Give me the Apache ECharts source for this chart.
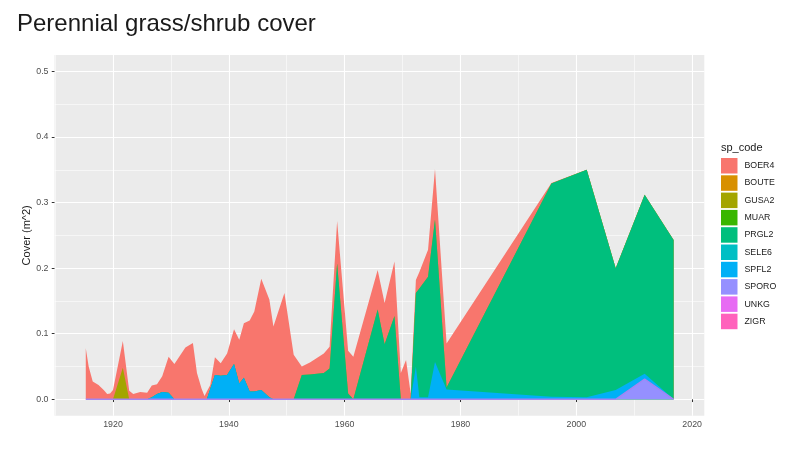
<!DOCTYPE html>
<html><head><meta charset="utf-8">
<script src="https://cdn.jsdelivr.net/npm/echarts@6/dist/echarts.min.js"></script>
<style>html,body{margin:0;padding:0;background:#fff}#c{width:789px;height:452px}</style>
</head><body><div id="c"></div>
<script>
// ---- data ----
const species = ['BOER4','BOUTE','GUSA2','MUAR','PRGL2','SELE6','SPFL2','SPORO','UNKG','ZIGR'];
const years = [1915.3,1915.8,1916.5,1917.5,1918.4,1919.0,1919.5,1920.0,1921.7,1922.8,
  1923.5,1924.7,1925.9,1926.7,1927.6,1928.5,1929.6,1930.6,1932.5,1933.8,
  1934.5,1935.3,1935.8,1936.2,1936.8,1937.6,1938.6,1939.7,1940.9,1941.8,
  1942.6,1943.6,1944.4,1945.6,1947.0,1947.7,1949.6,1951.2,1952.6,1954.0,
  1956.4,1957.4,1958.7,1960.6,1961.5,1965.7,1966.9,1968.6,1969.7,1970.6,
  1971.4,1972.3,1972.9,1974.4,1975.6,1977.6,1995.7,2001.8,2006.8,2011.8,2016.8];
const BOER4 = [0.078,0.050,0.027,0.022,0.014,0.008,0.009,0.014,0.041,0.013,
  0.008,0.011,0.010,0.018,0.015,0.024,0.055,0.054,0.079,0.086,
  0.040,0.016,0.005,0.012,0.006,0.027,0.019,0.033,0.053,0.067,
  0.083,0.108,0.122,0.170,0.149,0.111,0.162,0.068,0.013,0.018,
  0.030,0.033,0.065,0.065,0.065,0.060,0.063,0.083,0.040,0.060,
  0.009,0.020,0.025,0.041,0.077,0.067,0.001,0,0,0,0];
const GUSA2 = [0,0,0,0,0,0,0,0,0.048,0,
  0,0,0,0,0,0,0,0,0,0,
  0,0,0,0,0,0,0,0,0,0,
  0,0,0,0,0,0,0,0,0,0,
  0,0,0,0,0,0,0,0,0,0,
  0,0,0,0,0,0,0,0,0,0,0];
const PRGL2 = [0,0,0,0,0,0,0,0,0,0,
  0,0,0,0,0,0,0,0,0,0,
  0,0,0,0,0,0,0,0,0,0,
  0,0,0,0,0,0,0,0,0.037,0.038,
  0.040,0.047,0.207,0.009,0,0.137,0.084,0.127,0,0,
  0,0.112,0.166,0.184,0.217,0.003,0.325,0.347,0.186,0.273,0.243];
const SPFL2 = [0,0,0,0,0,0,0,0,0,0,
  0,0,0,0.003,0.008,0.011,0.010,0,0,0,
  0,0,0,0,0.016,0.037,0.036,0.037,0.054,0.024,
  0.033,0.012,0.012,0.014,0.003,0,0,0,0,0,
  0,0,0,0,0,0,0,0,0,0,
  0,0.050,0.003,0.003,0.057,0.015,0.004,0.003,0.014,0.008,0];
const SPORO = [0,0,0,0,0,0,0,0,0,0,
  0,0,0,0,0,0,0,0,0,0,
  0,0,0,0,0,0,0,0,0,0,
  0,0,0,0,0,0,0,0,0,0,
  0,0,0,0,0,0,0,0,0,0,
  0,0,0,0,0,0,0,0,0,0.031,0];
const BOUTE = [], MUAR = [], SELE6 = [], UNKG = [], ZIGR = [];
const xTicks = [1920,1940,1960,1980,2000,2020];
const xMinor = [1910,1930,1950,1970,1990,2010];
const yTicks = [0,0.1,0.2,0.3,0.4,0.5];
const yMinor = [0.05,0.15,0.25,0.35,0.45];

// ---- styles ----
const colors = {BOER4:'#F8766D',BOUTE:'#D89000',GUSA2:'#A3A500',MUAR:'#39B600',PRGL2:'#00BF7D',
  SELE6:'#00BFC4',SPFL2:'#00B0F6',SPORO:'#9590FF',UNKG:'#E76BF3',ZIGR:'#FF62BC'};
const values = {BOER4,BOUTE,GUSA2,MUAR,PRGL2,SELE6,SPFL2,SPORO,UNKG,ZIGR};
const FONT = 'Liberation Sans, Arial, sans-serif';

// Stacked layers: cumulative height of each species = its value + all species below it
// (legend order top -> bottom; ZIGR at the bottom). Layers are painted top species first,
// lower layers over them, which gives the stacked-area picture.
function cumulative(idx) {
  return years.map((y, i) => {
    let s = 0;
    for (let k = idx; k < species.length; k++) {
      const arr = values[species[k]];
      if (arr.length) s += arr[i];
    }
    return [y, +s.toFixed(4)];
  });
}

const chart = echarts.init(document.getElementById('c'), null, {renderer:'canvas'});
const series = species.map((name, idx) => {
  const has = values[name].length > 0;
  return {
    name, type:'line', symbol:'none', animation:false,
    xAxisIndex:0, yAxisIndex:0,
    color: colors[name],
    itemStyle:{color: colors[name]},
    lineStyle: name === 'SPORO' ? {width:1.4, color:'#A385F2'} : {width:0},
    areaStyle:{color: colors[name], opacity:1, origin:0},
    data: has ? cumulative(idx) : []
  };
});

const axisCommon = {type:'value', axisLine:{show:false}};
chart.setOption({
  animation:false,
  backgroundColor:'#ffffff',
  title:[
    {text:'Perennial grass/shrub cover', left:17, top:12, padding:0,
     textStyle:{fontFamily:FONT, fontSize:24, fontWeight:'normal', color:'#1a1a1a'}},
    {text:'sp_code', left:721, top:142, padding:0,
     textStyle:{fontFamily:FONT, fontSize:11, fontWeight:'normal', color:'#1a1a1a'}}
  ],
  grid:{left:54.5, right:84.7, top:55, bottom:36.3, show:true, backgroundColor:'#EBEBEB', borderWidth:0, containLabel:false},
  legend:{
    data: species, orient:'vertical', left:721, top:158, icon:'rect',
    itemWidth:16.5, itemHeight:15.5, itemGap:1.8, selectedMode:false, padding:0,
    textStyle:{fontFamily:FONT, fontSize:8.8, color:'#1a1a1a', padding:[0,0,0,2]}
  },
  xAxis:[
    Object.assign({}, axisCommon, {min:1909.9, max:2022.1, position:'bottom',
      axisTick:{show:true, customValues:xTicks, length:2.75, lineStyle:{color:'#333333', width:1}},
      axisLabel:{show:true, customValues:xTicks, margin:4.5, fontFamily:FONT, fontSize:8.8, color:'#4D4D4D', formatter: v => String(v)},
      splitLine:{show:true, lineStyle:{color:'#ffffff', width:1.1}}}),
    Object.assign({}, axisCommon, {min:1909.9, max:2022.1, position:'top',
      axisTick:{show:false, customValues:xMinor}, axisLabel:{show:false},
      splitLine:{show:true, lineStyle:{color:'#ffffff', width:0.55}}})
  ],
  yAxis:[
    Object.assign({}, axisCommon, {min:-0.025, max:0.525, position:'left',
      name:'Cover (m^2)', nameLocation:'middle', nameGap:22, nameMoveOverlap:false,
      nameTextStyle:{fontFamily:FONT, fontSize:11, color:'#1a1a1a'},
      axisTick:{show:true, customValues:yTicks, length:2.75, lineStyle:{color:'#333333', width:1}},
      axisLabel:{show:true, customValues:yTicks, margin:6, fontFamily:FONT, fontSize:8.8, color:'#4D4D4D', formatter: v => v.toFixed(1)},
      splitLine:{show:true, lineStyle:{color:'#ffffff', width:1.1}}}),
    Object.assign({}, axisCommon, {min:-0.025, max:0.525, position:'right',
      axisTick:{show:false, customValues:yMinor}, axisLabel:{show:false},
      splitLine:{show:true, lineStyle:{color:'#ffffff', width:0.55}}})
  ],
  series
});
</script></body></html>
